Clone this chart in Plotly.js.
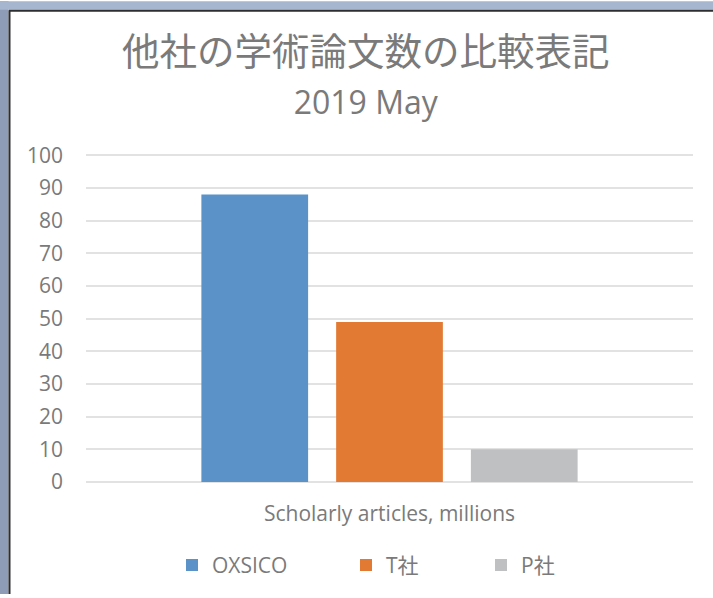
<!DOCTYPE html>
<html>
<head>
<meta charset="utf-8">
<script src="https://cdn.plot.ly/plotly-3.0.1.min.js"></script>
<style>
  html, body { margin: 0; padding: 0; background: #ffffff; }
  #chart { width: 713px; height: 598px; }
</style>
</head>
<body>
<div id="chart"></div>
<script>
// ---- data ----
const categories = ["Scholarly articles, millions"];
const seriesNames = ["OXSICO", "T社", "P社"];
const oxsicoValues = [88];
const tValues = [49];
const pValues = [10];
const yTickVals = [0, 10, 20, 30, 40, 50, 60, 70, 80, 90, 100];
const titleText = "他社の学術論文数の比較表記";
const subtitleText = "2019 May";

// ---- styles ----
const colors = ["#5b93c9", "#e37a33", "#bfc0c2"];
const legendWidths = [129, 90, 70];
const seriesValues = [oxsicoValues, tValues, pValues];
const textColor = "#7a7a7a";
const baseFont = "'Open Sans', 'Noto Sans', 'Noto Sans CJK JP', sans-serif";

const traces = seriesNames.map((name, i) => ({
  type: "bar",
  name: name,
  x: categories,
  y: seriesValues[i],
  marker: { color: colors[i], line: { width: 0 } },
  legendwidth: legendWidths[i],
  hoverinfo: "skip"
}));

// plot area geometry (pixels) used to place the frame decoration
const L = 86, R = 20, T = 152, B = 113, W = 713, H = 598;
const pw = W - L - R, ph = H - T - B;
const px2x = p => (p - L) / pw;
const py2y = p => (H - B - p) / ph;

const layout = {
  width: W,
  height: H,
  margin: { l: L, r: R, t: T, b: B, pad: 0 },
  paper_bgcolor: "#ffffff",
  plot_bgcolor: "#ffffff",
  font: { family: baseFont, color: textColor, size: 20 },
  title: {
    text: titleText + '<br><span style="font-size:32px;font-family:\'Open Sans\', sans-serif">' + subtitleText + '</span>',
    font: { family: "'Noto Sans CJK JP', sans-serif", size: 37.5, color: textColor },
    x: 0.513,
    xref: "container",
    xanchor: "center",
    y: 1 - 65 / H,
    yref: "container",
    yanchor: "top"
  },
  barmode: "group",
  bargap: 0.334,
  bargroupgap: 0.208,
  xaxis: {
    type: "category",
    showgrid: false,
    showline: false,
    zeroline: false,
    ticks: "",
    ticklabelstandoff: 17,
    tickfont: { size: 21, color: textColor, family: baseFont },
    fixedrange: true
  },
  yaxis: {
    range: [0, 101],
    tickvals: yTickVals,
    showgrid: true,
    gridcolor: "#e2e2e2",
    gridwidth: 2,
    zeroline: true,
    zerolinecolor: "#e2e2e2",
    zerolinewidth: 2,
    showline: false,
    ticks: "",
    ticklabelstandoff: 22,
    tickfont: { size: 21, color: textColor, family: baseFont },
    fixedrange: true
  },
  showlegend: true,
  legend: {
    orientation: "h",
    x: px2x(172),
    xanchor: "left",
    y: py2y(569),
    yanchor: "middle",
    font: { size: 21, color: textColor, family: baseFont },
    bgcolor: "rgba(0,0,0,0)",
    traceorder: "normal"
  },
  shapes: [
    // window background strips around the chart (left and top)
    { type: "rect", xref: "paper", yref: "paper", layer: "above",
      x0: px2x(0), x1: px2x(8.5), y0: py2y(H), y1: py2y(0),
      fillcolor: "#8e9cb7", line: { width: 0 } },
    { type: "rect", xref: "paper", yref: "paper", layer: "above",
      x0: px2x(0), x1: px2x(W), y0: py2y(8.5), y1: py2y(0),
      fillcolor: "#a6b6cf", line: { width: 0 } },
    // dark chart border
    { type: "line", xref: "paper", yref: "paper", layer: "above",
      x0: px2x(9.5), x1: px2x(9.5), y0: py2y(H), y1: py2y(9),
      line: { color: "#2e2e2e", width: 2 } },
    { type: "line", xref: "paper", yref: "paper", layer: "above",
      x0: px2x(9), x1: px2x(W), y0: py2y(9.5), y1: py2y(9.5),
      line: { color: "#2e2e2e", width: 2 } }
  ]
};

Plotly.newPlot("chart", traces, layout, { displayModeBar: false, staticPlot: true });
</script>
</body>
</html>
